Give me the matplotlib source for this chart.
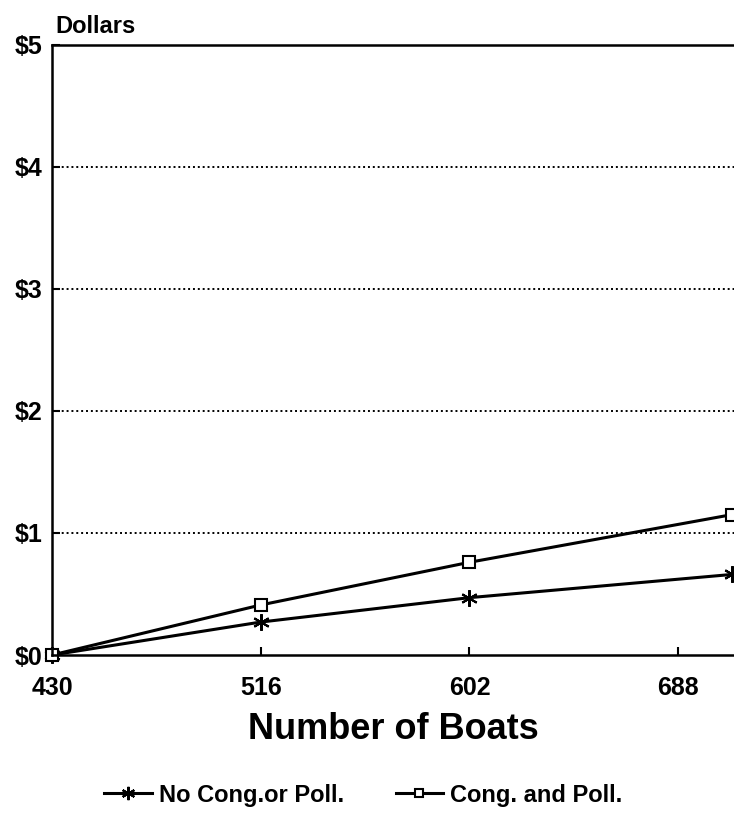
import matplotlib
matplotlib.use('Agg')
import matplotlib.pyplot as plt

# data
boats = [430, 516, 602, 710]
no_cong = [0.0, 0.27, 0.47, 0.66]
cong_poll = [0.0, 0.41, 0.76, 1.15]
x_ticks = [430, 516, 602, 688]
y_ticks = [0, 1, 2, 3, 4, 5]
y_labels = ['$0', '$1', '$2', '$3', '$4', '$5']

plt.rcParams['font.family'] = ['Liberation Sans', 'DejaVu Sans']

fig = plt.figure(figsize=(7.34, 8.30), dpi=100)
ax = fig.add_axes([52/734, 175/830, 682/734, 610/830])

ax.plot(boats, no_cong, color='black', lw=2.2, marker=(6, 2, 0), ms=12,
        mew=1.5, label='No Cong.or Poll.', clip_on=False)
ax.plot(boats, cong_poll, color='black', lw=2.2, marker='s', ms=8,
        mfc='white', mew=1.5, label='Cong. and Poll.', clip_on=False)

ax.set_xlim(430, 711)
ax.set_ylim(0, 5)
ax.set_xticks(x_ticks)
ax.set_xticklabels([str(t) for t in x_ticks], fontsize=18, fontweight='bold')
ax.set_yticks(y_ticks)
ax.set_yticklabels(y_labels, fontsize=18, fontweight='bold')
ax.tick_params(axis='x', direction='in', length=6, width=1.5, pad=15)
ax.tick_params(axis='y', direction='in', length=6, width=1.5, pad=7)

for y in y_ticks[1:-1]:
    ax.axhline(y, color='black', ls=(0, (1, 1.5)), lw=1.4, zorder=0)

ax.spines['right'].set_visible(False)
for s in ['left', 'top', 'bottom']:
    ax.spines[s].set_linewidth(1.8)

ax.set_xlabel('Number of Boats', fontsize=26, fontweight='bold', labelpad=9)
ax.text(0.005, 1.012, 'Dollars', transform=ax.transAxes, fontsize=17,
        fontweight='bold', ha='left', va='bottom')

fig.legend(loc='center', bbox_to_anchor=(0.495, 35/830), ncol=2, frameon=False,
           prop={'size': 17, 'weight': 'bold'}, handlelength=2.0,
           columnspacing=2.2, handletextpad=0.3, markerscale=0.8)

fig.savefig('out.png', dpi=100)
